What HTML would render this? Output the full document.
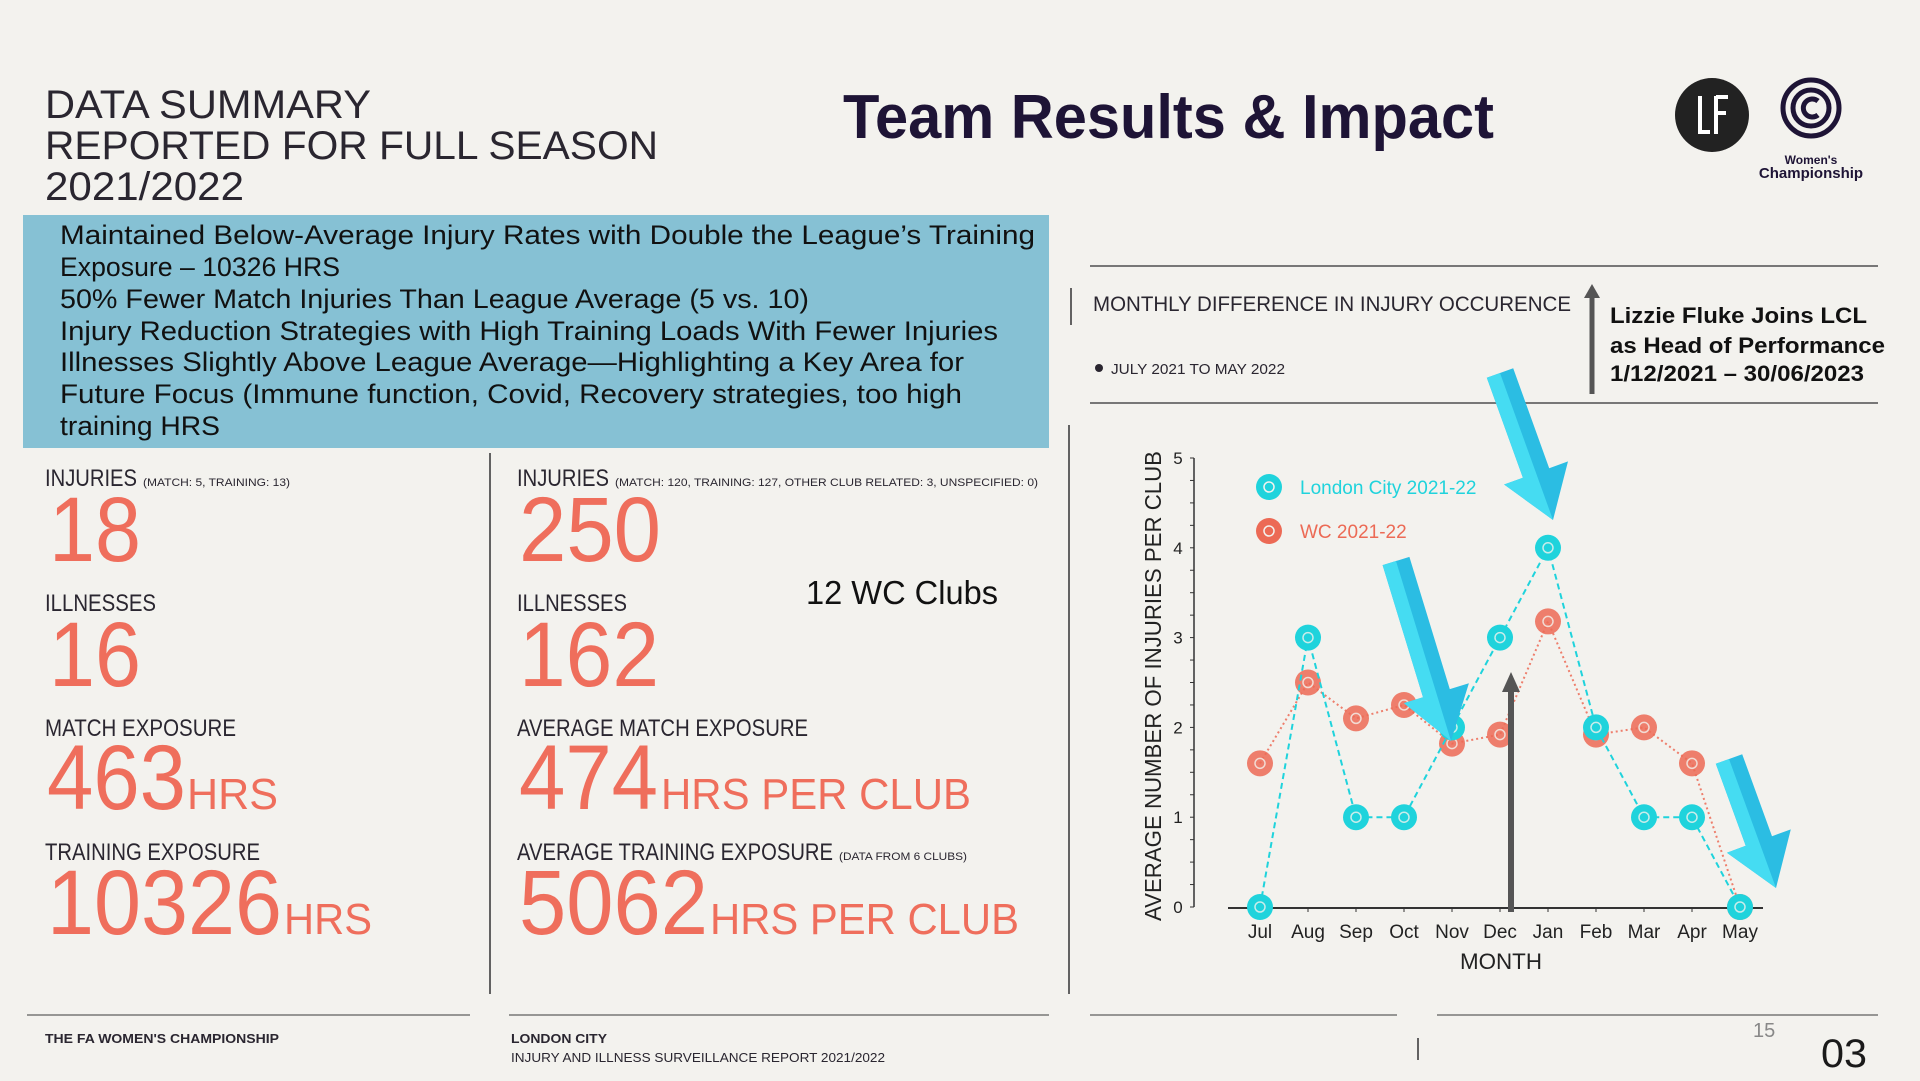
<!DOCTYPE html>
<html><head><meta charset="utf-8"><style>
html,body{margin:0;padding:0;background:#f3f2ee;}
svg{display:block;font-family:"Liberation Sans",sans-serif;}
</style></head><body>
<svg id="page" width="1920" height="1081" viewBox="0 0 1920 1081">
<rect width="1920" height="1081" fill="#f3f2ee"/>
<g fill="#2a2630">
<text x="45" y="118" font-size="40" textLength="326" lengthAdjust="spacingAndGlyphs">DATA SUMMARY</text>
<text x="45" y="159" font-size="40" textLength="613" lengthAdjust="spacingAndGlyphs">REPORTED FOR FULL SEASON</text>
<text x="45" y="200" font-size="40" textLength="199" lengthAdjust="spacingAndGlyphs">2021/2022</text>
</g>
<text x="843" y="138" font-size="62" font-weight="bold" fill="#1e1436" textLength="651" lengthAdjust="spacingAndGlyphs">Team Results &amp; Impact</text>
<g>
<circle cx="1712" cy="115" r="37" fill="#222"/>
<path d="M1700 96 v36 h10 M1716 96 v38 M1716 97 h12 M1716 113 h10" stroke="#fff" stroke-width="4" fill="none"/>
</g>
<g fill="none" stroke="#1e1436" stroke-width="5">
<circle cx="1811" cy="108" r="28"/>
<circle cx="1811" cy="108" r="18"/>
<path d="M1818 101 a9 9 0 1 0 0 14"/>
<text x="1811" y="164" font-size="12" font-weight="bold" fill="#1e1436" stroke="none" text-anchor="middle">Women's</text>
<text x="1811" y="178" font-size="15" font-weight="bold" fill="#1e1436" stroke="none" text-anchor="middle">Championship</text>
</g>
<rect x="23" y="215" width="1026" height="233" fill="#86c1d4"/>
<g fill="#111" font-size="27">
<text x="60" y="244" textLength="975" lengthAdjust="spacingAndGlyphs">Maintained Below-Average Injury Rates with Double the League’s Training</text>
<text x="60" y="276" textLength="280" lengthAdjust="spacingAndGlyphs">Exposure – 10326 HRS</text>
<text x="60" y="308" textLength="749" lengthAdjust="spacingAndGlyphs">50% Fewer Match Injuries Than League Average (5 vs. 10)</text>
<text x="60" y="340" textLength="938" lengthAdjust="spacingAndGlyphs">Injury Reduction Strategies with High Training Loads With Fewer Injuries</text>
<text x="60" y="371" textLength="904" lengthAdjust="spacingAndGlyphs">Illnesses Slightly Above League Average—Highlighting a Key Area for</text>
<text x="60" y="403" textLength="902" lengthAdjust="spacingAndGlyphs">Future Focus (Immune function, Covid, Recovery strategies, too high</text>
<text x="60" y="435" textLength="160" lengthAdjust="spacingAndGlyphs">training HRS</text>
</g>
<g stroke="#333" stroke-width="1.5">
<line x1="490" y1="453" x2="490" y2="994"/>
<line x1="1069" y1="425" x2="1069" y2="994"/>
<line x1="1090" y1="266" x2="1878" y2="266" stroke="#777" stroke-width="2"/>
<line x1="1090" y1="403" x2="1878" y2="403" stroke="#777" stroke-width="2"/>
<line x1="1071" y1="288" x2="1071" y2="325"/>
<line x1="27" y1="1015" x2="470" y2="1015" stroke="#777"/>
<line x1="509" y1="1015" x2="1049" y2="1015" stroke="#777"/>
<line x1="1090" y1="1015" x2="1397" y2="1015" stroke="#777"/>
<line x1="1437" y1="1015" x2="1878" y2="1015" stroke="#777"/>
<line x1="1418" y1="1038" x2="1418" y2="1060"/>
</g>
<g>
<text x="45" y="486" font-size="24" fill="#2a2630" textLength="92" lengthAdjust="spacingAndGlyphs">INJURIES</text>
<text x="143" y="486" font-size="11" fill="#2a2630" textLength="147" lengthAdjust="spacingAndGlyphs">(MATCH: 5, TRAINING: 13)</text>
<text x="49" y="561" font-size="92" fill="#ef6e5c" textLength="92" lengthAdjust="spacingAndGlyphs">18</text>
<text x="45" y="611" font-size="24" fill="#2a2630" textLength="111" lengthAdjust="spacingAndGlyphs">ILLNESSES</text>
<text x="49" y="686" font-size="92" fill="#ef6e5c" textLength="92" lengthAdjust="spacingAndGlyphs">16</text>
<text x="45" y="736" font-size="24" fill="#2a2630" textLength="191" lengthAdjust="spacingAndGlyphs">MATCH EXPOSURE</text>
<text x="47" y="809" font-size="92" fill="#ef6e5c" textLength="139" lengthAdjust="spacingAndGlyphs">463</text>
<text x="187" y="809" font-size="44" fill="#ef6e5c" textLength="91" lengthAdjust="spacingAndGlyphs">HRS</text>
<text x="45" y="860" font-size="24" fill="#2a2630" textLength="215" lengthAdjust="spacingAndGlyphs">TRAINING EXPOSURE</text>
<text x="47" y="934" font-size="92" fill="#ef6e5c" textLength="235" lengthAdjust="spacingAndGlyphs">10326</text>
<text x="284" y="934" font-size="44" fill="#ef6e5c" textLength="88" lengthAdjust="spacingAndGlyphs">HRS</text>
</g>
<g>
<text x="517" y="486" font-size="24" fill="#2a2630" textLength="92" lengthAdjust="spacingAndGlyphs">INJURIES</text>
<text x="615" y="486" font-size="11" fill="#2a2630" textLength="423" lengthAdjust="spacingAndGlyphs">(MATCH: 120, TRAINING: 127, OTHER CLUB RELATED: 3, UNSPECIFIED: 0)</text>
<text x="519" y="561" font-size="92" fill="#ef6e5c" textLength="142" lengthAdjust="spacingAndGlyphs">250</text>
<text x="517" y="611" font-size="24" fill="#2a2630" textLength="110" lengthAdjust="spacingAndGlyphs">ILLNESSES</text>
<text x="519" y="686" font-size="92" fill="#ef6e5c" textLength="140" lengthAdjust="spacingAndGlyphs">162</text>
<text x="806" y="604" font-size="33" fill="#111" textLength="192" lengthAdjust="spacingAndGlyphs">12 WC Clubs</text>
<text x="517" y="736" font-size="24" fill="#2a2630" textLength="291" lengthAdjust="spacingAndGlyphs">AVERAGE MATCH EXPOSURE</text>
<text x="519" y="809" font-size="92" fill="#ef6e5c" textLength="139" lengthAdjust="spacingAndGlyphs">474</text>
<text x="661" y="809" font-size="44" fill="#ef6e5c" textLength="310" lengthAdjust="spacingAndGlyphs">HRS PER CLUB</text>
<text x="517" y="860" font-size="24" fill="#2a2630" textLength="316" lengthAdjust="spacingAndGlyphs">AVERAGE TRAINING EXPOSURE</text>
<text x="839" y="860" font-size="11" fill="#2a2630" textLength="128" lengthAdjust="spacingAndGlyphs">(DATA FROM 6 CLUBS)</text>
<text x="519" y="934" font-size="92" fill="#ef6e5c" textLength="189" lengthAdjust="spacingAndGlyphs">5062</text>
<text x="710" y="934" font-size="44" fill="#ef6e5c" textLength="309" lengthAdjust="spacingAndGlyphs">HRS PER CLUB</text>
</g>
<text x="1093" y="311" font-size="21" fill="#2a2630" textLength="478" lengthAdjust="spacingAndGlyphs">MONTHLY DIFFERENCE IN INJURY OCCURENCE</text>
<circle cx="1099" cy="368" r="4" fill="#2a2630"/>
<text x="1111" y="374" font-size="15" fill="#2a2630" textLength="174" lengthAdjust="spacingAndGlyphs">JULY 2021 TO MAY 2022</text>
<g>
<line x1="1592" y1="394" x2="1592" y2="296" stroke="#555" stroke-width="5"/>
<polygon points="1584,298 1600,298 1592,284" fill="#555"/>
</g>
<g font-size="22" font-weight="bold" fill="#111">
<text x="1610" y="323" textLength="257" lengthAdjust="spacingAndGlyphs">Lizzie Fluke Joins LCL</text>
<text x="1610" y="353" textLength="275" lengthAdjust="spacingAndGlyphs">as Head of Performance</text>
<text x="1610" y="381" textLength="254" lengthAdjust="spacingAndGlyphs">1/12/2021 – 30/06/2023</text>
</g>
<g id="chart"></g>
<g fill="#2a2630">
<text x="45" y="1043" font-size="13" font-weight="bold" textLength="234" lengthAdjust="spacingAndGlyphs">THE FA WOMEN'S CHAMPIONSHIP</text>
<text x="511" y="1043" font-size="13" font-weight="bold" textLength="96" lengthAdjust="spacingAndGlyphs">LONDON CITY</text>
<text x="511" y="1062" font-size="13" textLength="374" lengthAdjust="spacingAndGlyphs">INJURY AND ILLNESS SURVEILLANCE REPORT 2021/2022</text>
<text x="1753" y="1037" font-size="20" fill="#888">15</text>
<text x="1821" y="1067" font-size="40" fill="#1a1a1a" textLength="46" lengthAdjust="spacingAndGlyphs">03</text>
</g>
</svg>
<script>
const months = ["Jul","Aug","Sep","Oct","Nov","Dec","Jan","Feb","Mar","Apr","May"];
const londonCity = [0,3,1,1,2,3,4,2,1,1,0];
const wcAverage = [1.6,2.5,2.1,2.25,1.82,1.92,3.18,1.92,2.0,1.6,0];
const yTicks = [0,1,2,3,4,5];
const seriesNames = ["London City 2021-22","WC 2021-22"];

const NS = "http://www.w3.org/2000/svg";
const g = document.getElementById('chart');
const X0 = 1260, XSTEP = 48, Y0 = 907, YUNIT = 89.8;
function xs(i){ return X0 + i*XSTEP; }
function ys(v){ return Y0 - v*YUNIT; }
function mk(tag, attrs, parent){ const e=document.createElementNS(NS,tag); for(const k in attrs) e.setAttribute(k,attrs[k]); (parent||g).appendChild(e); return e; }

let ax = mk('line',{x1:1194,y1:ys(5),x2:1194,y2:Y0,stroke:'#333','stroke-width':1.5});


let bx = mk('line',{x1:1228,y1:Y0+1,x2:1763,y2:Y0+1,stroke:'#333','stroke-width':2});


for(let v=0; v<=5.001; v+=0.25){
  const t = mk('line',{x1:1190,y1:ys(v),x2:1194,y2:ys(v),stroke:'#333','stroke-width':1});
  
  
}
yTicks.forEach(v=>{
  const t = mk('text',{x:1178,y:ys(v)+6,'font-size':17,fill:'#222','text-anchor':'middle'});
  t.textContent = v;
  
  
});
months.forEach((m,i)=>{
  const tk = mk('line',{x1:xs(i),y1:Y0,x2:xs(i),y2:Y0+5,stroke:'#333','stroke-width':1});
  
  
  const t = mk('text',{x:xs(i),y:Y0+31,'font-size':19,fill:'#222','text-anchor':'middle'});
  t.textContent = m;
  
  
});
const yt = mk('text',{x:0,y:0,'font-size':23,fill:'#222','text-anchor':'middle',transform:'translate(1161,686) rotate(-90)',textLength:470,lengthAdjust:'spacingAndGlyphs'});
yt.textContent = 'AVERAGE NUMBER OF INJURIES PER CLUB';


const xt = mk('text',{x:1501,y:969,'font-size':22,fill:'#222','text-anchor':'middle',textLength:82,lengthAdjust:'spacingAndGlyphs'});
xt.textContent = 'MONTH';



function series(vals, color, dash, name, alpha){
  const pts = vals.map((v,i)=>xs(i)+','+ys(v)).join(' ');
  const pl = mk('polyline',{points:pts,fill:'none',stroke:color,'stroke-width':2,'stroke-dasharray':dash,opacity:alpha});
  
  
  vals.forEach((v,i)=>{
    const c = mk('circle',{cx:xs(i),cy:ys(v),r:13,fill:color,opacity:alpha});
    
    
    const c2 = mk('circle',{cx:xs(i),cy:ys(v),r:5,fill:'none',stroke:'#f3f2ee','stroke-width':1.5,opacity:0.8});
    
    
  });
}
series(wcAverage,'#ec6a55','2,3','wc',0.85);
series(londonCity,'#1fd3dc','6,4','london-city',1);

const legColors=['#1fd3dc','#ec6a55'];
seriesNames.forEach((n,k)=>{
  const y = 487 + k*44;
  const c = mk('circle',{cx:1269,cy:y,r:13,fill:legColors[k]});
  
  
  const c2 = mk('circle',{cx:1269,cy:y,r:5,fill:'none',stroke:'#f3f2ee','stroke-width':1.5});
  
  
  const t = mk('text',{x:1300,y:y+7,'font-size':19,fill:legColors[k]});
  t.textContent = n;
  
  
});

function bigArrow(x1,y1,x2,y2,name){
  const dx=x2-x1, dy=y2-y1, L=Math.hypot(dx,dy), ux=dx/L, uy=dy/L, px=-uy, py=ux;
  const sw=14, hw=34, hl=50;
  const bx=x2-ux*hl, by=y2-uy*hl;
  const P=(x,y)=>x.toFixed(1)+','+y.toFixed(1);
  const pts=[P(x1+px*sw,y1+py*sw),P(bx+px*sw,by+py*sw),P(bx+px*hw,by+py*hw),P(x2,y2),P(bx-px*hw,by-py*hw),P(bx-px*sw,by-py*sw),P(x1-px*sw,y1-py*sw)].join(' ');
  const a = mk('polygon',{points:pts,fill:'#2bbde3'});
  
  
  const pts2=[P(x1,y1),P(x1+px*sw,y1+py*sw),P(bx+px*sw,by+py*sw),P(bx+px*hw,by+py*hw),P(x2,y2)].join(' ');
  const b = mk('polygon',{points:pts2,fill:'#45dcf2'});
  
  
}
bigArrow(1500,373,1553,520,'jan-arrow');
bigArrow(1396,561,1451,741,'nov-arrow');
bigArrow(1729,759,1776,888,'may-arrow');

const ga = mk('line',{x1:1511,y1:912,x2:1511,y2:690,stroke:'#555','stroke-width':6});


const gh = mk('polygon',{points:'1502,692 1520,692 1511,672',fill:'#555'});


</script>
</body></html>
